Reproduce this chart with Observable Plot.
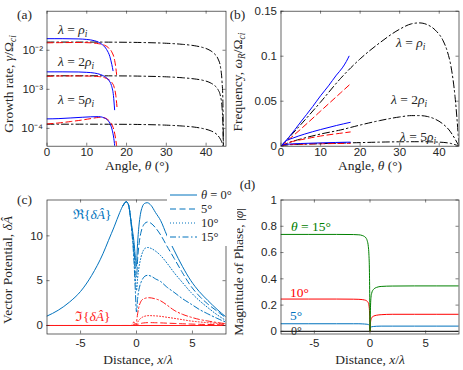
<!DOCTYPE html>
<html><head><meta charset="utf-8">
<script src="https://cdn.jsdelivr.net/npm/d3@7"></script>
<script src="https://cdn.jsdelivr.net/npm/@observablehq/plot@0.6"></script>
<style>
body{margin:0;background:#fff;}
#fig{position:relative;width:463px;height:370px;overflow:hidden;background:#fff;}
#fig svg{position:absolute;left:0;top:0;}
.lab{position:absolute;font-family:"Liberation Serif","Times New Roman",serif;font-size:13.5px;color:#262626;white-space:nowrap;line-height:1;}
.lab sub{font-size:70%;vertical-align:-0.3em;line-height:0;}
.rot{transform:translate(-50%,-50%) rotate(-90deg);}
.ctr{transform:translate(-50%,-50%);}
.lft{transform:translate(0,-50%);}
.leg{position:absolute;background:#fff;}
</style></head><body><div id="fig"></div>
<script>
// ---------- Panel (a): growth rate vs angle (log y) ----------
const a_blue_rho_theta = [0, 4, 8, 10, 12, 13, 14, 15, 15.8, 16.3, 16.6];
const a_blue_rho = [0.0198, 0.0198, 0.0195, 0.0189, 0.0175, 0.016, 0.0137, 0.0104, 0.0069, 0.0043, 0.003];
const a_red_rho_theta = [0, 4, 8, 11, 13, 14.5, 15.5, 16.3, 16.9, 17.3, 17.5];
const a_red_rho = [0.0155, 0.0157, 0.0158, 0.0155, 0.0147, 0.0134, 0.0115, 0.009, 0.0062, 0.0036, 0.0024];
const a_blue_2rho_theta = [0, 4, 8, 10, 12, 13.5, 14.5, 15.5, 16.2, 16.7, 17.0];
const a_blue_2rho = [0.0028, 0.0028, 0.00278, 0.00272, 0.0026, 0.00238, 0.00212, 0.00172, 0.00125, 0.0007, 0.0003];
const a_red_2rho_theta = [0, 4, 8, 11, 13, 14.5, 15.5, 16.3, 16.9, 17.3, 17.6];
const a_red_2rho = [0.00215, 0.0022, 0.0022, 0.00218, 0.00212, 0.00198, 0.00178, 0.0015, 0.00112, 0.0007, 0.00035];
const a_blue_5rho_theta = [0, 3, 6, 9, 11, 13, 14, 15, 15.8, 16.4, 16.8, 17.1];
const a_blue_5rho = [1.75e-4, 1.78e-4, 1.85e-4, 1.93e-4, 1.98e-4, 2.0e-4, 1.92e-4, 1.7e-4, 1.35e-4, 9e-5, 5.5e-5, 3e-5];
const a_red_5rho_theta = [0, 3, 6, 9, 11, 13, 14.2, 15.2, 16.2, 16.9, 17.3, 17.6];
const a_red_5rho = [1.3e-4, 1.38e-4, 1.5e-4, 1.65e-4, 1.78e-4, 1.9e-4, 1.88e-4, 1.7e-4, 1.3e-4, 8.5e-5, 5e-5, 3e-5];
const a_black_theta = [0, 10, 20, 25, 30, 34, 37, 39, 41, 42, 43, 43.6, 44, 44.2, 44.35];
const a_black_rho = [0.0162, 0.0162, 0.016, 0.0157, 0.0151, 0.0142, 0.0131, 0.0119, 0.0099, 0.0083, 0.006, 0.0038, 0.0016, 0.0006, 0.00003];
const a_black_2rho = [0.00222, 0.00222, 0.0022, 0.00216, 0.00209, 0.00198, 0.00185, 0.00172, 0.00148, 0.00128, 0.00098, 0.00068, 0.00035, 0.00015, 0.00003];
const a_black_5rho = [1.28e-4, 1.28e-4, 1.27e-4, 1.25e-4, 1.21e-4, 1.15e-4, 1.08e-4, 1.0e-4, 8.8e-5, 7.9e-5, 6.5e-5, 5.3e-5, 4.3e-5, 3.7e-5, 3.0e-5];
const a_xticks = [0, 10, 20, 30, 40];
const a_yticks = [1e-4, 1e-3, 1e-2];

// ---------- Panel (b): real frequency vs angle ----------
const b_blue_rho_theta = [0, 2, 5, 8, 10, 12, 14, 15.5, 16.5, 17.2];
const b_blue_rho = [0, 0.010, 0.027, 0.044, 0.056, 0.067, 0.079, 0.087, 0.094, 0.100];
const b_red_rho_theta = [0, 5, 10, 15, 17.5];
const b_red_rho = [0, 0.019, 0.039, 0.059, 0.069];
const b_black_rho_theta = [0, 5, 10, 15, 20, 25, 30, 33, 35, 37, 39, 41, 42, 43, 44, 44.5, 45];
const b_black_rho = [0, 0.024, 0.049, 0.075, 0.097, 0.115, 0.130, 0.136, 0.137, 0.135, 0.129, 0.117, 0.106, 0.088, 0.055, 0.03, 0];
const b_blue_2rho_theta = [0, 1, 3, 6, 10, 14, 17.5];
const b_blue_2rho = [0, 0.005, 0.009, 0.0135, 0.0185, 0.023, 0.0265];
const b_red_2rho_theta = [0, 2, 6, 10, 14, 17.5];
const b_red_2rho = [0, 0.004, 0.008, 0.0113, 0.0138, 0.0158];
const b_black_2rho_theta = [0, 2, 5, 10, 15, 20, 25, 30, 33, 35, 37, 39, 41, 42.5, 44, 45];
const b_black_2rho = [0, 0.004, 0.008, 0.0135, 0.018, 0.0235, 0.0285, 0.0325, 0.034, 0.034, 0.033, 0.030, 0.0245, 0.018, 0.008, 0];
const b_blue_5rho_theta = [0, 1, 5, 10, 17.5];
const b_blue_5rho = [0, 0.002, 0.003, 0.0037, 0.0045];
const b_red_5rho_theta = [0, 1, 5, 10, 17.5];
const b_red_5rho = [0, 0.0015, 0.0022, 0.0027, 0.0032];
const b_black_5rho_theta = [0, 2, 10, 20, 30, 35, 40, 43, 45];
const b_black_5rho = [0, 0.0015, 0.0028, 0.004, 0.0049, 0.005, 0.0045, 0.003, 0];
const b_xticks = [0, 10, 20, 30, 40];
const b_yticks = [0, 0.05, 0.1, 0.15];

// ---------- Panel (c): vector potential vs distance ----------
const c_x_full = [-8, -7, -6, -5, -4, -3, -2.5, -2, -1.5, -1.2, -0.9, -0.7, -0.54, -0.4, -0.24, -0.1, 0, 0.06, 0.21, 0.35, 0.51, 0.7, 0.96, 1.3, 1.7, 2.16, 2.7, 3.36, 4.1, 4.86, 5.6, 6.37, 7.2, 8];
const c_re_0 = [1.05, 1.7, 2.6, 3.8, 5.6, 8.0, 9.5, 11.0, 12.6, 13.4, 13.8, 13.4, 12.1, 10.9, 9.5, 7.6, 6.6, 8.3, 11.0, 12.4, 13.2, 13.6, 13.7, 13.4, 12.6, 11.7, 10.1, 8.4, 6.6, 5.0, 3.8, 2.8, 1.8, 0.95];
const c_x_th = [-1.2, -0.9, -0.7, -0.54, -0.4, -0.24, -0.1, 0, 0.1, 0.25, 0.4, 0.55, 0.75, 1.0, 1.3, 1.7, 2.16, 2.7, 3.36, 4.1, 4.86, 5.6, 6.37, 7.2, 8];
const c_re_5 = [13.4, 13.8, 13.4, 12.1, 10.6, 8.8, 6.4, 5.4, 7.4, 9.3, 10.4, 11.0, 11.4, 11.55, 11.4, 10.9, 10.1, 8.9, 7.5, 5.9, 4.4, 3.3, 2.4, 1.6, 0.85];
const c_re_10 = [13.4, 13.8, 13.4, 12.1, 10.4, 8.2, 5.2, 3.9, 5.3, 6.7, 7.6, 8.2, 8.6, 8.7, 8.6, 8.3, 7.8, 7.0, 5.9, 4.8, 3.7, 2.8, 2.0, 1.2, 0.55];
const c_re_15 = [13.4, 13.8, 13.4, 12.1, 10.2, 7.5, 3.8, 1.5, 3.0, 4.2, 4.8, 5.2, 5.5, 5.6, 5.5, 5.2, 4.9, 4.3, 3.7, 3.0, 2.4, 1.8, 1.3, 0.8, 0.37];
const c_x_im0 = [-8, 8];
const c_im_0 = [0, 0];
const c_x_im = [-8, -0.5, -0.35, -0.25, -0.15, -0.05, 0, 0.1, 0.2, 0.36, 0.6, 1.1, 1.6, 2.16, 2.7, 3.36, 4.1, 4.86, 5.6, 6.37, 7.2, 8];
const c_im_5 = [0, 0, 0, 0.02, 0.02, 0.02, 0.03, 0.1, 0.16, 0.22, 0.28, 0.32, 0.31, 0.29, 0.26, 0.23, 0.19, 0.16, 0.13, 0.11, 0.09, 0.07];
const c_im_10 = [0, 0, 0.02, 0.1, 0.08, 0.05, 0.1, 0.35, 0.55, 0.78, 0.97, 1.1, 1.08, 1.02, 0.92, 0.8, 0.65, 0.5, 0.4, 0.31, 0.24, 0.18];
const c_im_15 = [0, 0, 0.1, 0.4, 0.25, 0.1, 0.4, 1.3, 2.0, 2.6, 2.95, 3.1, 3.0, 2.75, 2.3, 1.7, 1.25, 0.93, 0.68, 0.5, 0.33, 0.2];
const c_xticks = [-5, 0, 5];
const c_yticks = [0, 5, 10];

// ---------- Panel (d): magnitude of phase vs distance ----------
const d_x = [-8, -3, -1.5, -1, -0.7, -0.5, -0.35, -0.25, -0.15, -0.1, -0.05, -0.02, 0, 0.02, 0.05, 0.09, 0.15, 0.3, 0.6, 1, 2, 4, 8];
const d_15 = [0.738, 0.738, 0.737, 0.735, 0.73, 0.722, 0.71, 0.69, 0.645, 0.59, 0.45, 0.22, 0.0, 0.1, 0.2, 0.26, 0.29, 0.318, 0.335, 0.342, 0.345, 0.346, 0.346];
const d_10 = [0.246, 0.246, 0.245, 0.244, 0.242, 0.239, 0.235, 0.229, 0.216, 0.2, 0.16, 0.09, 0.0, 0.04, 0.07, 0.09, 0.103, 0.115, 0.123, 0.127, 0.13, 0.13, 0.13];
const d_5 = [0.058, 0.058, 0.058, 0.058, 0.057, 0.056, 0.055, 0.054, 0.052, 0.05, 0.045, 0.035, 0.02, 0.026, 0.03, 0.033, 0.035, 0.037, 0.039, 0.04, 0.04, 0.04, 0.04];
const d_0 = d_x.map(() => 0);
const d_xticks = [-5, 0, 5];
const d_yticks = [0, 0.2, 0.4, 0.6, 0.8, 1];

// ---------- helpers ----------
const W = 463, H = 370;
const INK = "#262626";
const TICKFONT = "'Liberation Sans', Arial, Helvetica, sans-serif";
const pts = (xs, ys) => xs.map((x, i) => ({x, y: ys[i]}));
const SUP = {"-": "\u207B", "0": "\u2070", "1": "\u00B9", "2": "\u00B2", "3": "\u00B3", "4": "\u2074", "5": "\u2075"};
const pow10 = v => "10" + String(Math.round(Math.log10(v))).split("").map(c => SUP[c]).join("");
const plain = v => String(v);

function panel({rect, x, y, marks, xTicks, yTicks, yFmt = plain, xFmt = plain, xPad = 3}) {
  const [L, T, R, B] = rect;
  const fw = R - L, fh = B - T, tl = 3;
  const tickStyle = {stroke: INK, strokeWidth: 0.6};
  return Plot.plot({
    width: W, height: H,
    marginLeft: L, marginTop: T, marginRight: W - R, marginBottom: H - B,
    style: {background: "transparent", overflow: "visible", fontFamily: TICKFONT, fontSize: "11.5px", color: INK},
    x: {...x, axis: null, label: null},
    y: {...y, axis: null, label: null},
    marks: [
      ...marks,
      Plot.ruleX(xTicks, {x: d => d, insetTop: fh - tl, ...tickStyle}),
      Plot.ruleX(xTicks, {x: d => d, insetBottom: fh - tl, ...tickStyle}),
      Plot.ruleY(yTicks, {y: d => d, insetRight: fw - tl, ...tickStyle}),
      Plot.ruleY(yTicks, {y: d => d, insetLeft: fw - tl, ...tickStyle}),
      Plot.frame({stroke: INK, strokeWidth: 0.7}),
      Plot.axisX(xTicks, {tickSize: 0, tickPadding: xPad, tickFormat: xFmt, label: null, fill: INK}),
      Plot.axisY(yTicks, {tickSize: 0, tickPadding: 4, tickFormat: yFmt, label: null, fill: INK})
    ]
  });
}
const line = (data, stroke, dash, w = 1) => Plot.line(data, {x: "x", y: "y", stroke, strokeWidth: w, strokeDasharray: dash, curve: "monotone-x", clip: true});

const BLUE = "#0000ff", RED = "#ff0000", BLK = "#000000";
const DASH = "6,3.5", DASHDOT = "7,3,1.5,3";
const CBLUE = "#0072bd", CRED = "#ff1a1a", CGREEN = "#008000";

const fig = document.getElementById("fig");

fig.append(panel({
  rect: [46.5, 10.7, 225.5, 145.7],
  x: {domain: [0, 45]},
  y: {type: "log", domain: [3.5e-5, 0.1]},
  xTicks: a_xticks, yTicks: a_yticks, yFmt: pow10, xPad: 2,
  marks: [
    line(pts(a_black_theta, a_black_rho), BLK, DASHDOT),
    line(pts(a_black_theta, a_black_2rho), BLK, DASHDOT),
    line(pts(a_black_theta, a_black_5rho), BLK, DASHDOT),
    line(pts(a_red_rho_theta, a_red_rho), RED, DASH),
    line(pts(a_red_2rho_theta, a_red_2rho), RED, DASH),
    line(pts(a_red_5rho_theta, a_red_5rho), RED, DASH),
    line(pts(a_blue_rho_theta, a_blue_rho), BLUE),
    line(pts(a_blue_2rho_theta, a_blue_2rho), BLUE),
    line(pts(a_blue_5rho_theta, a_blue_5rho), BLUE)
  ]
}));

fig.append(panel({
  rect: [280.5, 10.7, 458.5, 145.7],
  x: {domain: [0, 45]},
  y: {domain: [0, 0.15]},
  xTicks: b_xticks, yTicks: b_yticks, xPad: 2,
  marks: [
    line(pts(b_black_rho_theta, b_black_rho), BLK, DASHDOT),
    line(pts(b_black_2rho_theta, b_black_2rho), BLK, DASHDOT),
    line(pts(b_black_5rho_theta, b_black_5rho), BLK, DASHDOT),
    line(pts(b_red_rho_theta, b_red_rho), RED, DASH),
    line(pts(b_red_2rho_theta, b_red_2rho), RED, DASH),
    line(pts(b_red_5rho_theta, b_red_5rho), RED, DASH),
    line(pts(b_blue_rho_theta, b_blue_rho), BLUE),
    line(pts(b_blue_2rho_theta, b_blue_2rho), BLUE),
    line(pts(b_blue_5rho_theta, b_blue_5rho), BLUE)
  ]
}));

const C_DASH = "6,3.5", C_DOT = "1,2", C_DASHDOT = "6,2.5,1.5,2.5";
fig.append(panel({
  rect: [46.5, 199.5, 225.5, 333.5],
  x: {domain: [-8, 8]},
  y: {domain: [-0.95, 14.0]},
  xTicks: c_xticks, yTicks: c_yticks, xPad: 5,
  marks: [
    line(pts(c_x_im0, c_im_0), CRED, null),
    line(pts(c_x_im, c_im_5), CRED, C_DASH),
    line(pts(c_x_im, c_im_10), CRED, C_DOT),
    line(pts(c_x_im, c_im_15), CRED, C_DASHDOT),
    line(pts(c_x_full, c_re_0), CBLUE, null),
    line(pts(c_x_th, c_re_5), CBLUE, C_DASH),
    line(pts(c_x_th, c_re_10), CBLUE, C_DOT),
    line(pts(c_x_th, c_re_15), CBLUE, C_DASHDOT)
  ]
}));

fig.append(panel({
  rect: [280.5, 199.5, 458.5, 333.5],
  x: {domain: [-8, 8]},
  y: {domain: [-0.02, 1]},
  xTicks: d_xticks, yTicks: d_yticks, xPad: 5,
  marks: [
    line(pts(d_x, d_0), "#303030", null, 1.2),
    line(pts(d_x, d_5), CBLUE, null),
    line(pts(d_x, d_10), RED, null),
    line(pts(d_x, d_15), CGREEN, null)
  ]
}));

// ---------- text: labels, annotations, legend ----------
function lab(html, x, y, cls, extra = "") {
  const d = document.createElement("div");
  d.className = "lab " + cls;
  d.style.left = x + "px"; d.style.top = y + "px";
  if (extra) d.style.cssText += extra;
  d.innerHTML = html;
  fig.append(d);
  return d;
}
lab("(a)", 24.5, 15, "ctr");
lab("(b)", 237.5, 15, "ctr");
lab("(c)", 24.5, 199.5, "ctr");
lab("(d)", 247.5, 184.5, "ctr");

lab("Growth rate, <i>γ</i>/Ω<sub><i>ci</i></sub>", 9, 84, "rot");
lab("Frequency, <i>ω<sub>R</sub></i>/Ω<sub><i>ci</i></sub>", 238, 82, "rot");
lab("Vector Potential, <i>δÂ</i>", 8, 270, "rot");
lab("Magnitude of Phase, |<i>φ</i>|", 238.5, 272, "rot");
lab("Angle, <i>θ</i> (°)", 137, 166, "ctr");
lab("Angle, <i>θ</i> (°)", 370, 166, "ctr");
lab("Distance, <i>x</i>/<i>λ</i>", 138, 360, "ctr");
lab("Distance, <i>x</i>/<i>λ</i>", 370, 360, "ctr");

lab("<i>λ</i> = <i>ρ<sub>i</sub></i>", 58, 30, "lft");
lab("<i>λ</i> = 2<i>ρ<sub>i</sub></i>", 58, 62, "lft");
lab("<i>λ</i> = 5<i>ρ<sub>i</sub></i>", 58, 100, "lft");
lab("<i>λ</i> = <i>ρ<sub>i</sub></i>", 396, 43, "lft");
lab("<i>λ</i> = 2<i>ρ<sub>i</sub></i>", 391, 100, "lft");
lab("<i>λ</i> = 5<i>ρ<sub>i</sub></i>", 400, 137, "lft");

lab("ℜ{<i>δÂ</i>}", 73, 215, "lft", "color:" + CBLUE);
lab("ℑ{<i>δÂ</i>}", 75, 317, "lft", "color:" + CRED);

lab("<i>θ</i> = 15°", 291, 227, "lft", "color:" + CGREEN);
lab("10°", 290, 293, "lft", "color:" + RED);
lab("5°", 290, 316, "lft", "color:" + CBLUE);
lab("0°", 291, 331, "lft", "color:#262626;font-size:12px");

// legend for (c)
const legBox = document.createElement("div");
legBox.className = "leg";
legBox.style.cssText = "left:167px;top:184px;width:70px;height:62px;";
fig.append(legBox);
const legItems = [
  {dash: null, text: "<i>θ</i> = 0°"},
  {dash: C_DASH, text: "5°"},
  {dash: C_DOT, text: "10°"},
  {dash: C_DASHDOT, text: "15°"}
];
legItems.forEach((it, i) => {
  const yy = 195 + i * 14;
  const s = document.createElementNS("http://www.w3.org/2000/svg", "svg");
  s.setAttribute("width", 30); s.setAttribute("height", 4);
  s.style.cssText = `position:absolute;left:169px;top:${yy - 2}px;`;
  const l = document.createElementNS("http://www.w3.org/2000/svg", "line");
  l.setAttribute("x1", 1); l.setAttribute("x2", 28); l.setAttribute("y1", 2); l.setAttribute("y2", 2);
  l.setAttribute("stroke", CBLUE); l.setAttribute("stroke-width", 1);
  if (it.dash) l.setAttribute("stroke-dasharray", it.dash);
  s.append(l);
  fig.append(s);
  lab(it.text, 201, yy, "lft", "font-size:12.5px");
});
</script>
</body></html>
